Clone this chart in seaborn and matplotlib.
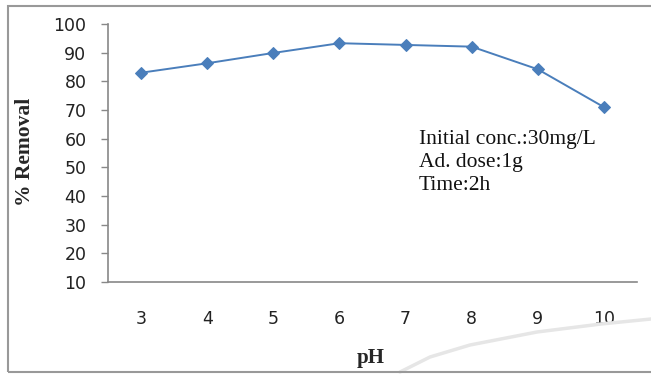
import matplotlib
matplotlib.use("Agg")
import matplotlib.pyplot as plt
import seaborn as sns
import pandas as pd
from matplotlib.patches import Rectangle
from matplotlib.lines import Line2D

ph = [3, 4, 5, 6, 7, 8, 9, 10]
removal = [83.0, 86.3, 89.9, 93.3, 92.7, 92.1, 84.2, 71.0]
y_ticks = [10, 20, 30, 40, 50, 60, 70, 80, 90, 100]
notes = ["Initial conc.:30mg/L", "Ad. dose:1g", "Time:2h"]

sns.set_style("white")
df = pd.DataFrame({"pH": ph, "removal": removal})

W, H = 651, 374
fig = plt.figure(figsize=(W/100, H/100), dpi=100)
ax = fig.add_axes([108/W, 1-282/H, (637-108)/W, (282-24)/H])

sns.lineplot(data=df, x="pH", y="removal", ax=ax, color="#4a7ebb", marker="D",
             markersize=6.5, markeredgecolor="#4a7ebb", linewidth=1.4)

ax.set_xlim(2.5, 10.5)
ax.set_ylim(10, 100)
ax.set_yticks(y_ticks)
ax.set_xticks(ph)
ax.set_xticklabels([str(v) for v in ph], fontsize=12.5, family="DejaVu Sans", color="#222222")
ax.set_yticklabels([str(v) for v in y_ticks], fontsize=12.5, family="DejaVu Sans", color="#222222")
ax.tick_params(axis="y", left=True, direction="out", length=5, width=1, color="#888888", pad=10.5)
ax.tick_params(axis="x", bottom=False, length=0, pad=20)

for s in ["top", "right"]:
    ax.spines[s].set_visible(False)
for s in ["left", "bottom"]:
    ax.spines[s].set_color("#888888")
    ax.spines[s].set_linewidth(1.2)

ax.set_xlabel("pH", fontsize=15, fontweight="bold", family="Liberation Serif")
ax.xaxis.set_label_coords((371-108)/(637-108), -(358-282)/(282-24))
ax.xaxis.label.set_va("center")
ax.set_ylabel("% Removal", fontsize=15.5, fontweight="bold", family="Liberation Serif")
ax.yaxis.set_label_coords(-(108-25)/(637-108), (282-152)/(282-24))
ax.yaxis.label.set_va("center")

for i, t in enumerate(notes):
    fig.text(419/W, 1-(140 + i*23)/H, t, fontsize=15.5, family="Liberation Serif",
             color="#111111", va="center", ha="left")

# outer frame
fig.patches.append(Rectangle((8/W, 1-372/H), (660-8)/W, (372-6)/H, transform=fig.transFigure,
                             fill=False, edgecolor="#999999", linewidth=1.5))
# faint scan artifact curve at bottom right
cx = [400, 430, 470, 537, 601, 651]
cy = [372, 357, 345, 332, 324, 319]
fig.lines.append(Line2D([x/W for x in cx], [1-y/H for y in cy], transform=fig.transFigure,
                        color="#e6e6e6", linewidth=2.5, zorder=0))

fig.savefig("out.png", dpi=100)
